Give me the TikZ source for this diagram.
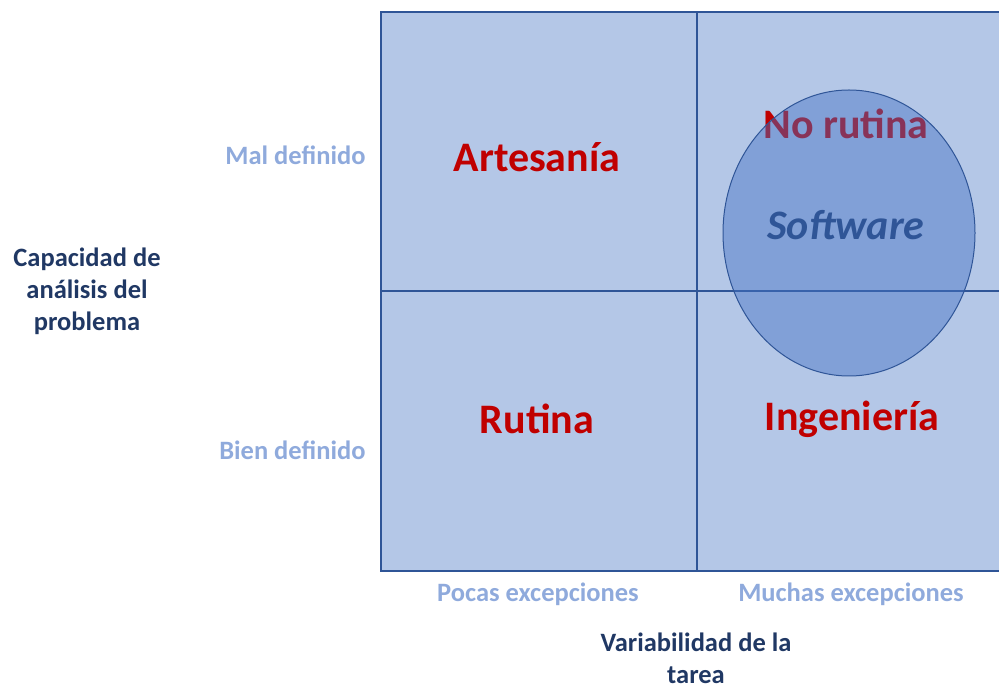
\documentclass[tikz,border=0pt]{standalone}
\usepackage{fontspec}
\setmainfont{Carlito}
\begin{document}
\begin{tikzpicture}[x=1pt,y=-1pt,
  cell/.style={fill=cellfill,draw=edgeblue,line width=1.2pt},
  quad/.style={font=\bfseries\fontsize{42}{48}\selectfont,text=quadred},
  axlab/.style={font=\bfseries\fontsize{26.5}{30}\selectfont,text=axblue},
  title/.style={font=\bfseries\fontsize{26.5}{32}\selectfont,text=navy,align=center}]
\definecolor{cellfill}{HTML}{B4C7E7}
\definecolor{edgeblue}{HTML}{2F5597}
\definecolor{ellfill}{HTML}{4472C4}
\definecolor{quadred}{HTML}{C00000}
\definecolor{axblue}{HTML}{8FAADC}
\definecolor{navy}{HTML}{203864}
\useasboundingbox (0,0) rectangle (999,692);
\path[cell] (381,12) rectangle (697,291);
\path[cell] (697,12) rectangle (1005,291);
\path[cell] (381,291) rectangle (697,571);
\path[cell] (697,291) rectangle (1005,571);
\node[quad] (art) at (537,157) {Artesanía};
\node[quad] (rut) at (537,419) {Rutina};
\node[quad] (ing) at (852,419) {Ingeniería};
\node[quad] (nor) at (846,124) {No rutina};
\fill[ellfill,opacity=0.45] (849,233) ellipse [x radius=126, y radius=143];
\draw[edgeblue,line width=1pt] (849,233) ellipse [x radius=126, y radius=143];
\node[font=\bfseries\itshape\fontsize{42}{48}\selectfont,text=edgeblue] (sw) at (846,225) {Software};
\node[axlab,anchor=east] (mal) at (369,155) {Mal definido};
\node[axlab,anchor=east] (bien) at (369,450) {Bien definido};
\node[axlab] (pocas) at (538,594) {Pocas excepciones};
\node[axlab] (muchas) at (851,594) {Muchas excepciones};
\node[title] (cap) at (87,291) {Capacidad de\\análisis del\\problema};
\node[title,anchor=base,inner sep=0pt] (var) at (696,683) {Variabilidad de la\\tarea};
\end{tikzpicture}
\end{document}
